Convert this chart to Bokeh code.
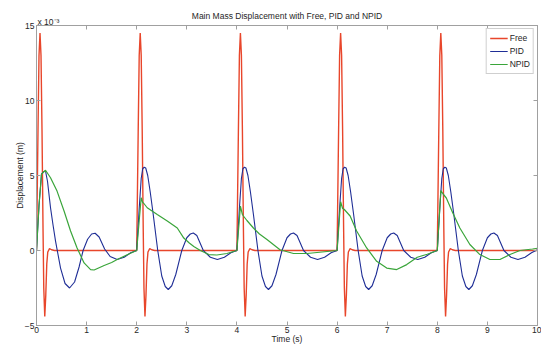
from bokeh.plotting import figure
from bokeh.models import LinearAxis, Title, FixedTicker, Range1d, Legend
from bokeh.embed import file_html
from bokeh.resources import INLINE

# ---- data (displacement in units of 1e-3 m) ----
x_ticks = [0, 1, 2, 3, 4, 5, 6, 7, 8, 9, 10]
y_ticks = [-5, 0, 5, 10, 15]

free_t = [0.00, 0.03, 0.05, 0.07, 0.09, 0.11, 0.13, 0.145, 0.165, 0.185, 0.205, 0.225, 0.26, 0.30, 0.36,
          2.00, 2.03, 2.05, 2.07, 2.09, 2.11, 2.13, 2.145, 2.165, 2.185, 2.205, 2.225, 2.26, 2.30, 2.36,
          4.00, 4.03, 4.05, 4.07, 4.09, 4.11, 4.13, 4.145, 4.165, 4.185, 4.205, 4.225, 4.26, 4.30, 4.36,
          6.00, 6.03, 6.05, 6.07, 6.09, 6.11, 6.13, 6.145, 6.165, 6.185, 6.205, 6.225, 6.26, 6.30, 6.36,
          8.00, 8.03, 8.05, 8.07, 8.09, 8.11, 8.13, 8.145, 8.165, 8.185, 8.205, 8.225, 8.26, 8.30, 8.36,
          10.0]
free_v = [0, 8.0, 13.0, 14.5, 13.0, 8.0, 1.5, -2.5, -4.4, -3.0, -0.9, -0.1, 0.12, 0.05, 0,
          0, 8.0, 13.0, 14.5, 13.0, 8.0, 1.5, -2.5, -4.4, -3.0, -0.9, -0.1, 0.12, 0.05, 0,
          0, 8.0, 13.0, 14.5, 13.0, 8.0, 1.5, -2.5, -4.4, -3.0, -0.9, -0.1, 0.12, 0.05, 0,
          0, 8.0, 13.0, 14.5, 13.0, 8.0, 1.5, -2.5, -4.4, -3.0, -0.9, -0.1, 0.12, 0.05, 0,
          0, 8.0, 13.0, 14.5, 13.0, 8.0, 1.5, -2.5, -4.4, -3.0, -0.9, -0.1, 0.12, 0.05, 0,
          0]

pid_t = [0.00, 0.05, 0.10, 0.14, 0.18, 0.22, 0.28, 0.33, 0.38, 0.48, 0.57, 0.66, 0.76, 0.85, 0.93, 1.02, 1.10, 1.17, 1.25, 1.36, 1.47, 1.61, 1.75, 1.88,
         2.00, 2.05, 2.09, 2.12, 2.15, 2.18, 2.22, 2.27, 2.33, 2.42, 2.50, 2.57, 2.63, 2.70, 2.78, 2.90, 3.00, 3.07, 3.13, 3.20, 3.33, 3.47, 3.61, 3.75, 3.88,
         4.00, 4.05, 4.09, 4.12, 4.15, 4.18, 4.22, 4.27, 4.33, 4.42, 4.50, 4.57, 4.63, 4.70, 4.78, 4.90, 5.00, 5.07, 5.13, 5.20, 5.33, 5.47, 5.61, 5.75, 5.88,
         6.00, 6.05, 6.09, 6.12, 6.15, 6.18, 6.22, 6.27, 6.33, 6.42, 6.50, 6.57, 6.63, 6.70, 6.78, 6.90, 7.00, 7.07, 7.13, 7.20, 7.33, 7.47, 7.61, 7.75, 7.88,
         8.00, 8.05, 8.09, 8.12, 8.15, 8.18, 8.22, 8.27, 8.33, 8.42, 8.50, 8.57, 8.63, 8.70, 8.78, 8.90, 9.00, 9.07, 9.13, 9.20, 9.33, 9.47, 9.61, 9.75, 9.88,
         10.0]
pid_v = [0, 3.0, 5.1, 5.25, 5.3, 4.6, 2.85, 1.7, 0.62, -1.17, -2.2, -2.5, -2.1, -1.1, 0.0, 0.75, 1.1, 1.15, 0.9, 0.1, -0.4, -0.6, -0.45, -0.15,
         0, 2.8, 4.8, 5.45, 5.55, 5.5, 5.0, 3.9, 2.4, 0.0, -1.7, -2.4, -2.6, -2.35, -1.6, 0.0, 0.85, 1.1, 1.17, 1.0, 0.0, -0.45, -0.6, -0.45, -0.15,
         0, 2.8, 4.8, 5.45, 5.55, 5.5, 5.0, 3.9, 2.4, 0.0, -1.7, -2.4, -2.6, -2.35, -1.6, 0.0, 0.85, 1.1, 1.17, 1.0, 0.0, -0.45, -0.6, -0.45, -0.15,
         0, 2.8, 4.8, 5.45, 5.55, 5.5, 5.0, 3.9, 2.4, 0.0, -1.7, -2.4, -2.6, -2.35, -1.6, 0.0, 0.85, 1.1, 1.17, 1.0, 0.0, -0.45, -0.6, -0.45, -0.15,
         0, 2.8, 4.8, 5.45, 5.55, 5.5, 5.0, 3.9, 2.4, 0.0, -1.7, -2.4, -2.6, -2.35, -1.6, 0.0, 0.85, 1.1, 1.17, 1.0, 0.0, -0.45, -0.6, -0.45, -0.15,
         0.05]

npid_t = [0.00, 0.05, 0.10, 0.18, 0.28, 0.41, 0.55, 0.68, 0.81, 0.95, 1.08, 1.15, 1.35, 1.50, 1.61, 1.80,
          2.00, 2.05, 2.09, 2.12, 2.14, 2.21, 2.41, 2.61, 2.81, 2.94, 3.05, 3.14, 3.27, 3.44, 3.60, 3.80,
          4.00, 4.07, 4.11, 4.13, 4.20, 4.33, 4.45, 4.60, 4.86, 5.13, 5.40, 5.70,
          6.00, 6.07, 6.11, 6.14, 6.26, 6.39, 6.59, 6.79, 6.99, 7.19, 7.39, 7.60, 7.80,
          8.00, 8.07, 8.12, 8.18, 8.31, 8.45, 8.65, 8.85, 9.05, 9.25, 9.45, 9.65, 9.90, 10.0]
npid_v = [0, 3.0, 5.1, 5.35, 4.85, 3.96, 2.63, 1.3, 0.17, -0.83, -1.27, -1.3, -1.0, -0.8, -0.6, -0.3,
          0, 2.0, 3.52, 3.2, 3.15, 2.85, 2.4, 1.96, 1.5, 0.83, 0.5, 0.27, 0.0, -0.27, -0.3, -0.2,
          0, 2.96, 2.4, 2.3, 2.0, 1.5, 1.1, 0.73, 0.05, -0.2, -0.2, -0.1,
          0, 3.25, 2.8, 2.75, 2.3, 1.3, 0.17, -0.72, -1.17, -1.27, -0.94, -0.45, -0.25,
          0, 4.0, 3.75, 3.5, 2.5, 1.5, 0.4, -0.27, -0.6, -0.6, -0.27, 0.0, 0.1, 0.15]

# ---- styling ----
FONT = "Liberation Sans"
TXT = "#262626"
AX = "#a0a0a0"
FS = "8.5px"

p = figure(width=541, height=347, x_range=Range1d(0, 10), y_range=Range1d(-5, 15),
           output_backend="svg", toolbar_location=None,
           min_border_left=36, min_border_right=4, min_border_top=25, min_border_bottom=22)
p.background_fill_color = "white"
p.border_fill_color = "white"
p.outline_line_color = AX
p.grid.visible = False

for ax in (p.xaxis[0], p.yaxis[0]):
    ax.major_tick_in = 4
    ax.major_tick_out = 0
    ax.minor_tick_line_color = None
    ax.axis_line_color = AX
    ax.major_tick_line_color = AX
    ax.major_label_text_font = FONT
    ax.major_label_text_font_size = FS
    ax.major_label_text_color = TXT
    ax.axis_label_text_font = FONT
    ax.axis_label_text_font_size = FS
    ax.axis_label_text_font_style = "normal"
    ax.axis_label_text_color = TXT

p.xaxis[0].major_label_standoff = 1
p.xaxis[0].axis_label_standoff = -2
p.yaxis[0].major_label_standoff = 2
p.yaxis[0].axis_label_standoff = -3

p.xaxis[0].ticker = FixedTicker(ticks=x_ticks)
p.yaxis[0].ticker = FixedTicker(ticks=y_ticks)
p.xaxis[0].axis_label = "Time (s)"
p.yaxis[0].axis_label = "Displacement (m)"

for loc, tk in (("above", x_ticks), ("right", y_ticks)):
    a = LinearAxis(ticker=FixedTicker(ticks=tk), major_tick_in=4, major_tick_out=0,
                   minor_tick_line_color=None, axis_line_color=AX, major_tick_line_color=AX,
                   major_label_text_color=None, major_label_text_font_size="1px",
                   major_label_standoff=0)
    p.add_layout(a, loc)

mult = Title(text="x 10\u207b\u00b3", align="left", offset=1, standoff=-2,
             text_font=FONT, text_font_size=FS, text_font_style="normal", text_color=TXT)
p.add_layout(mult, "above")
main = Title(text="Main Mass Displacement with Free, PID and NPID", align="center", standoff=-11,
             text_font=FONT, text_font_size=FS, text_font_style="normal", text_color=TXT)
p.add_layout(main, "above")

r_free = p.line(free_t, free_v, line_color="#E8462B", line_width=1.4)
r_pid = p.line(pid_t, pid_v, line_color="#1F2E96", line_width=1.1)
r_npid = p.line(npid_t, npid_v, line_color="#3AA53A", line_width=1.2)

legend = Legend(items=[("Free", [r_free]), ("PID", [r_pid]), ("NPID", [r_npid])],
                location="top_right")
legend.label_text_font = FONT
legend.label_text_font_size = FS
legend.label_text_color = TXT
legend.glyph_width = 18
legend.glyph_height = 12
legend.label_height = 12
legend.label_standoff = 2
legend.spacing = 1
legend.padding = 3
legend.margin = 3
legend.border_line_color = AX
legend.background_fill_alpha = 1.0
p.add_layout(legend)

open("out.html", "w").write(file_html(p, INLINE))
